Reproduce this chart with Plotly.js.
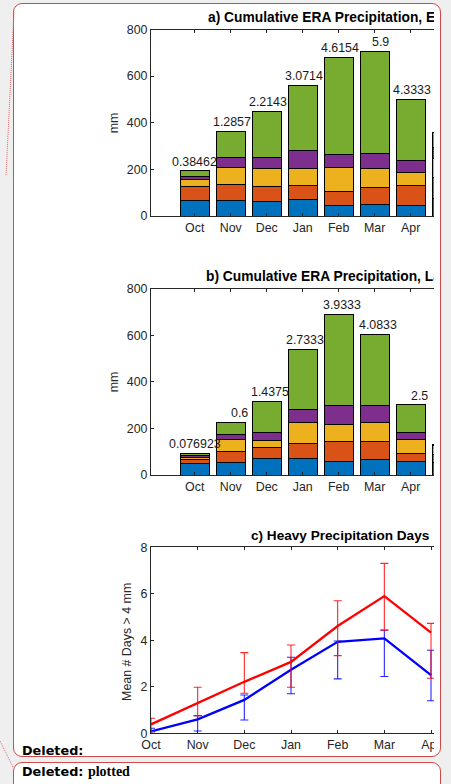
<!DOCTYPE html>
<html>
<head>
<meta charset="utf-8">
<script src="https://cdn.plot.ly/plotly-3.0.1.min.js"></script>
<style>
  html, body { margin:0; padding:0; width:451px; height:784px; overflow:hidden; background:#efefef; }
  #box1 { position:absolute; left:13px; top:3px; width:426px; height:752px; border:1px solid #d04a4a; border-radius:9px; background:#ffffff; }
  #box2 { position:absolute; left:13px; top:762px; width:426px; height:60px; border:1px solid #d04a4a; border-radius:9px; background:#ffffff; }
  #clip { position:absolute; left:0; top:0; width:434px; height:756px; overflow:hidden; }
  #plot { position:absolute; left:0; top:0; width:560px; height:760px; }
  .del { position:absolute; left:22px; font-family:"DejaVu Sans", Verdana, sans-serif; font-weight:bold; font-size:12.8px; color:#000; white-space:nowrap; }
  .del span { font-family:"Liberation Serif", "Times New Roman", serif; font-weight:bold; font-size:14px; }
  #conn { position:absolute; left:0; top:0; width:451px; height:784px; pointer-events:none; }
</style>
</head>
<body>
<div id="box1"></div>
<div id="box2"></div>
<svg id="conn" width="451" height="784">
  <line x1="14" y1="12" x2="6" y2="176" stroke="#d86a6a" stroke-width="1" stroke-dasharray="1,1"/>
  <line x1="0" y1="741" x2="13" y2="767" stroke="#d86a6a" stroke-width="1" stroke-dasharray="1,1"/>
</svg>
<div id="clip"><div id="plot"></div></div>
<div class="del" style="top:743px;">Deleted:</div>
<div class="del" style="top:764px;">Deleted: <span>plotted</span></div>
<script>
// ---------- data ----------
const months = ['Oct','Nov','Dec','Jan','Feb','Mar','Apr','May'];
const seriesColors = ['#0072BD','#D95319','#EDB120','#7E2F8E','#77AC30'];

// a) El Niño – stacked segment values (mm)
const elBlue   = [65, 66, 63, 71, 47, 49, 44, 73];
const elOrange = [60, 70, 63, 58, 59, 74, 86, 93];
const elYellow = [31, 71, 78, 75, 103, 81, 57, 82];
const elPurple = [12, 43, 45, 75, 55, 66, 52, 47];
const elGreen  = [27, 114, 200, 282, 417, 436, 261, 62];

// b) La Niña – stacked segment values (mm)
const laBlue   = [51, 53, 71, 71, 60, 67, 56, 54];
const laOrange = [17, 47, 46, 65, 82, 77, 37, 36];
const laYellow = [8, 53, 33, 91, 77, 82, 60, 36];
const laPurple = [8, 23, 32, 53, 79, 72, 30, 3];
const laGreen  = [9, 51, 134, 259, 393, 307, 119, 3];

// c) Mean heavy precipitation days (> 4 mm), Oct–Apr
const cMonths = ['Oct','Nov','Dec','Jan','Feb','Mar','Apr'];
const elDays   = [0.38462, 1.2857, 2.2143, 3.0714, 4.6154, 5.9, 4.3333];
const elUpper  = [0.645, 1.98, 3.47, 3.80, 5.70, 7.31, 4.73];
const elLower  = [0.07, 0.76, 1.72, 1.98, 3.34, 4.43, 2.37];
const laDays   = [0.076923, 0.6, 1.4375, 2.7333, 3.9333, 4.0833, 2.5];
const laUpper  = [0.215, 0.76, 1.65, 3.27, 3.97, 4.44, 3.57];
const laLower  = [0.0, 0.10, 0.57, 1.70, 2.34, 2.44, 1.40];

// label horizontal offsets (px) as in the original figure
const elLabelShift = [0, 1.3, 1.3, 1.3, 1.3, 6, 1.3];
const laLabelShift = [0, 8.8, 3, 2.6, 3, 3, 8.3];

// ---------- geometry helpers ----------
const W = 560, H = 760;
const fx = px => px / W;
const fy = py => 1 - py / H;
const FONT = 'Liberation Sans, Arial, Helvetica, sans-serif';
const TXT = '#262626';

const xIdx = months.map((m, i) => i);
const cIdx = cMonths.map((m, i) => i);

function barTraces(segs, xa, ya) {
  return segs.map((vals, k) => ({
    type: 'bar', x: xIdx, y: vals, xaxis: xa, yaxis: ya, width: 0.8,
    marker: { color: seriesColors[k], line: { color: '#000000', width: 1 } },
    hoverinfo: 'skip', showlegend: false
  }));
}

const elSegs = [elBlue, elOrange, elYellow, elPurple, elGreen];
const laSegs = [laBlue, laOrange, laYellow, laPurple, laGreen];
const totals = segs => segs[0].map((_, i) => segs.reduce((s, a) => s + a[i], 0));
const elTot = totals(elSegs), laTot = totals(laSegs);

const traces = [
  ...barTraces(elSegs, 'x', 'y'),
  ...barTraces(laSegs, 'x2', 'y2'),
  {
    type: 'scatter', mode: 'lines', x: cIdx, y: laDays, xaxis: 'x3', yaxis: 'y3',
    line: { color: '#0000FF', width: 2.3 },
    error_y: { type: 'data', symmetric: false,
      array: laUpper.map((u, i) => u - laDays[i]),
      arrayminus: laLower.map((l, i) => laDays[i] - l),
      color: 'rgba(0,0,255,0.85)', thickness: 1.1, width: 4 },
    hoverinfo: 'skip', showlegend: false
  },
  {
    type: 'scatter', mode: 'lines', x: cIdx, y: elDays, xaxis: 'x3', yaxis: 'y3',
    line: { color: '#FF0000', width: 2.3 },
    error_y: { type: 'data', symmetric: false,
      array: elUpper.map((u, i) => u - elDays[i]),
      arrayminus: elLower.map((l, i) => elDays[i] - l),
      color: 'rgba(255,0,0,0.85)', thickness: 1.1, width: 4 },
    hoverinfo: 'skip', showlegend: false
  }
];

const axisCommon = {
  showline: true, linecolor: TXT, linewidth: 1, mirror: 'ticks',
  ticks: 'inside', ticklen: 3, tickwidth: 1, tickcolor: TXT,
  showgrid: false, zeroline: false, fixedrange: true,
  tickfont: { family: FONT, size: 12.4, color: TXT }
};
const xDom = [fx(151), fx(527)];
const barRange = [-1.214, 9.23];

const layout = {
  width: W, height: H,
  margin: { l: 0, r: 0, t: 0, b: 0 },
  paper_bgcolor: 'rgba(0,0,0,0)', plot_bgcolor: '#ffffff',
  barmode: 'stack', bargap: 0,
  showlegend: false,
  font: { family: FONT, color: TXT },
  xaxis:  Object.assign({}, axisCommon, { domain: xDom, anchor: 'y',  range: barRange, tickvals: xIdx, ticktext: months }),
  yaxis:  Object.assign({}, axisCommon, { domain: [fy(216), fy(29.5)], anchor: 'x',  range: [0, 800], tickvals: [0,200,400,600,800] }),
  xaxis2: Object.assign({}, axisCommon, { domain: xDom, anchor: 'y2', range: barRange, tickvals: xIdx, ticktext: months }),
  yaxis2: Object.assign({}, axisCommon, { domain: [fy(475), fy(288.7)], anchor: 'x2', range: [0, 800], tickvals: [0,200,400,600,800] }),
  xaxis3: Object.assign({}, axisCommon, { domain: xDom, anchor: 'y3', range: [0, 8.057], tickvals: cIdx, ticktext: cMonths }),
  yaxis3: Object.assign({}, axisCommon, { domain: [fy(733.3), fy(547.3)], anchor: 'x3', range: [0, 8], tickvals: [0,2,4,6,8] }),
  annotations: []
};

const ann = layout.annotations;
// panel titles
const titleFont = { family: FONT, size: 13.8, color: '#000000', weight: 'bold' };
ann.push({ xref:'paper', yref:'paper', x: fx(206), y: fy(27), xanchor:'left', yanchor:'bottom', showarrow:false,
  text:'<b>a) Cumulative ERA Precipitation, El Niño</b>', font: titleFont });
ann.push({ xref:'paper', yref:'paper', x: fx(204), y: fy(286), xanchor:'left', yanchor:'bottom', showarrow:false,
  text:'<b>b) Cumulative ERA Precipitation, La Niña</b>', font: titleFont });
ann.push({ xref:'paper', yref:'paper', x: fx(249), y: fy(545), xanchor:'left', yanchor:'bottom', showarrow:false,
  text:'<b>c) Heavy Precipitation Days</b>', font: { family: FONT, size: 13.6, color: '#000000', weight: 'bold' } });
// y-axis titles
const yTitleFont = { family: FONT, size: 12.4, color: TXT };
ann.push({ xref:'paper', yref:'paper', x: fx(114.2), y: fy(123), xanchor:'center', yanchor:'middle', textangle:-90, showarrow:false, text:'mm', font:yTitleFont });
ann.push({ xref:'paper', yref:'paper', x: fx(114.2), y: fy(382), xanchor:'center', yanchor:'middle', textangle:-90, showarrow:false, text:'mm', font:yTitleFont });
ann.push({ xref:'paper', yref:'paper', x: fx(127.2), y: fy(641.7), xanchor:'center', yanchor:'middle', textangle:-90, showarrow:false, text:'Mean # Days &gt; 4 mm', font:yTitleFont });
// value labels above bars
const labFont = { family: FONT, size: 12.4, color: '#1a1a1a' };
elDays.forEach((v, i) => ann.push({ xref:'x', yref:'y', x: i, y: elTot[i], xanchor:'center', yanchor:'bottom', xshift: elLabelShift[i], yshift: 0,
  showarrow:false, text: String(v), font: labFont }));
laDays.forEach((v, i) => ann.push({ xref:'x2', yref:'y2', x: i, y: laTot[i], xanchor:'center', yanchor:'bottom', xshift: laLabelShift[i], yshift: 0,
  showarrow:false, text: String(v), font: labFont }));

Plotly.newPlot('plot', traces, layout, { staticPlot: true, displayModeBar: false });
</script>
</body>
</html>
